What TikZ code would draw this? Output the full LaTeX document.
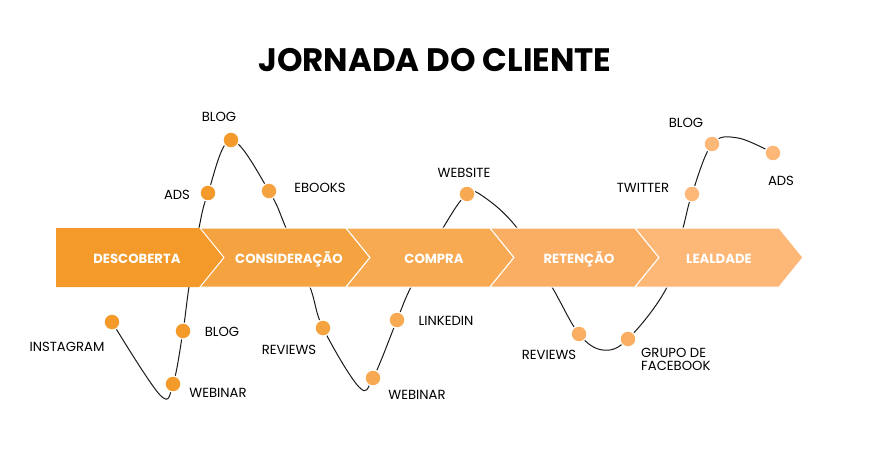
\documentclass[tikz,border=0pt]{standalone}
\usepackage{fontspec}
\setmainfont{Poppins}
\pgfdeclarelayer{background}
\pgfsetlayers{background,main}
\definecolor{faseA}{HTML}{F39A2B}
\definecolor{faseB}{HTML}{F5A340}
\definecolor{faseC}{HTML}{F8AA52}
\definecolor{faseD}{HTML}{FAAE64}
\definecolor{faseE}{HTML}{FDB777}
\definecolor{linha}{HTML}{1A1A1A}
\begin{document}
\begin{tikzpicture}[x=1pt,y=-1pt,
  ponto/.style={circle,inner sep=0pt,minimum size=16pt,draw=white,line width=1.2pt},
  rotulo/.style={font=\fontsize{13.2}{15}\selectfont,inner sep=0pt},
  faixa/.style={draw=white,line width=1pt},
  fasetxt/.style={text=white,font=\fontsize{13.2}{15}\selectfont\bfseries}]
\useasboundingbox (0,0) rectangle (871,451);

% Title
\node (titulo) at (435,60) {\fontsize{32.5}{38}\selectfont\bfseries JORNADA DO CLIENTE};

% Dots
\node[ponto,fill=faseA] (instagram) at (112,322) {};
\node[ponto,fill=faseA] (webinarA) at (173,384) {};
\node[ponto,fill=faseA] (blogA) at (183,331) {};
\node[ponto,fill=faseA] (ads) at (208,193) {};
\node[ponto,fill=faseA] (blogB) at (231,140) {};
\node[ponto,fill=faseB] (ebooks) at (269,191) {};
\node[ponto,fill=faseB] (reviewsA) at (323,328) {};
\node[ponto,fill=faseC] (webinarB) at (373,378) {};
\node[ponto,fill=faseC] (linkedin) at (397,320) {};
\node[ponto,fill=faseC] (website) at (467,194) {};
\node[ponto,fill=faseD] (reviewsB) at (579,334) {};
\node[ponto,fill=faseD] (grupo) at (628,339) {};
\node[ponto,fill=faseE] (twitter) at (692,194) {};
\node[ponto,fill=faseE] (blogC) at (712,144) {};
\node[ponto,fill=faseE] (adsB) at (773,153) {};

% Curve helpers
\coordinate (vale1) at (160,395);
\coordinate (sobe1) at (189,287);
\coordinate (sai1) at (199,228);
\coordinate (desce1) at (286,228);
\coordinate (sai2) at (310,287);
\coordinate (vale2) at (359,387);
\coordinate (sobe2) at (411,287);
\coordinate (sai3) at (443,228);
\coordinate (topo1) at (484,197);
\coordinate (desce2) at (517,228);
\coordinate (sai4) at (552,287);
\coordinate (vale3) at (603,350);
\coordinate (sobe3) at (667,287);
\coordinate (sai5) at (683,228);
\coordinate (topo2) at (738,138);

\begin{pgfonlayer}{background}
% Journey line
\draw[linha,line width=1pt] plot[smooth,tension=0.6] coordinates {(instagram.center) (vale1) (webinarA.center) (blogA.center) (sobe1) (sai1) (ads.center) (blogB.center) (ebooks.center) (desce1) (sai2) (reviewsA.center) (vale2) (webinarB.center) (linkedin.center) (sobe2) (sai3) (website.center) (topo1) (desce2) (sai4) (reviewsB.center) (vale3) (grupo.center) (sobe3) (sai5) (twitter.center) (blogC.center) (topo2) (adsB.center)};

% Stages
\fill[faseA] (56,228) -- (200,228) -- (224,257.5) -- (200,287) -- (56,287) -- cycle;
\foreach \l/\r/\c in {200/346/faseB,346/490/faseC,490/635/faseD,635/779/faseE}
  \draw[faixa,fill=\c] (\l,228) -- (\r,228) -- (\r+24,257.5) -- (\r,287) -- (\l,287) -- (\l+24,257.5) -- cycle;
\end{pgfonlayer}

% Stage names
\node[fasetxt] (descoberta) at (137,259) {DESCOBERTA};
\node[fasetxt] (consideracao) at (289,259) {CONSIDERAÇÃO};
\node[fasetxt] (compra) at (434,259) {COMPRA};
\node[fasetxt] (retencao) at (579,259) {RETENÇÃO};
\node[fasetxt] (lealdade) at (719,259) {LEALDADE};

% Text Nodes
\node[rotulo] (tBlogB) at (219,117) {BLOG};
\node[rotulo] (tAds) at (177,195) {ADS};
\node[rotulo] (tEbooks) at (320,188) {EBOOKS};
\node[rotulo] (tInstagram) at (67,347) {INSTAGRAM};
\node[rotulo] (tBlogA) at (222,332) {BLOG};
\node[rotulo] (tWebinarA) at (218,393) {WEBINAR};
\node[rotulo] (tReviewsA) at (289,350) {REVIEWS};
\node[rotulo] (tWebsite) at (464,173) {WEBSITE};
\node[rotulo] (tLinkedin) at (446,321) {LINKEDIN};
\node[rotulo] (tWebinarB) at (417,395) {WEBINAR};
\node[rotulo] (tReviewsB) at (549,355) {REVIEWS};
\node[rotulo,anchor=north west,align=left] (tGrupo) at (641,348) {GRUPO DE\\[-2pt]FACEBOOK};
\node[rotulo] (tTwitter) at (643,188) {TWITTER};
\node[rotulo] (tBlogC) at (686,123) {BLOG};
\node[rotulo] (tAdsB) at (781,181) {ADS};

\end{tikzpicture}
\end{document}
